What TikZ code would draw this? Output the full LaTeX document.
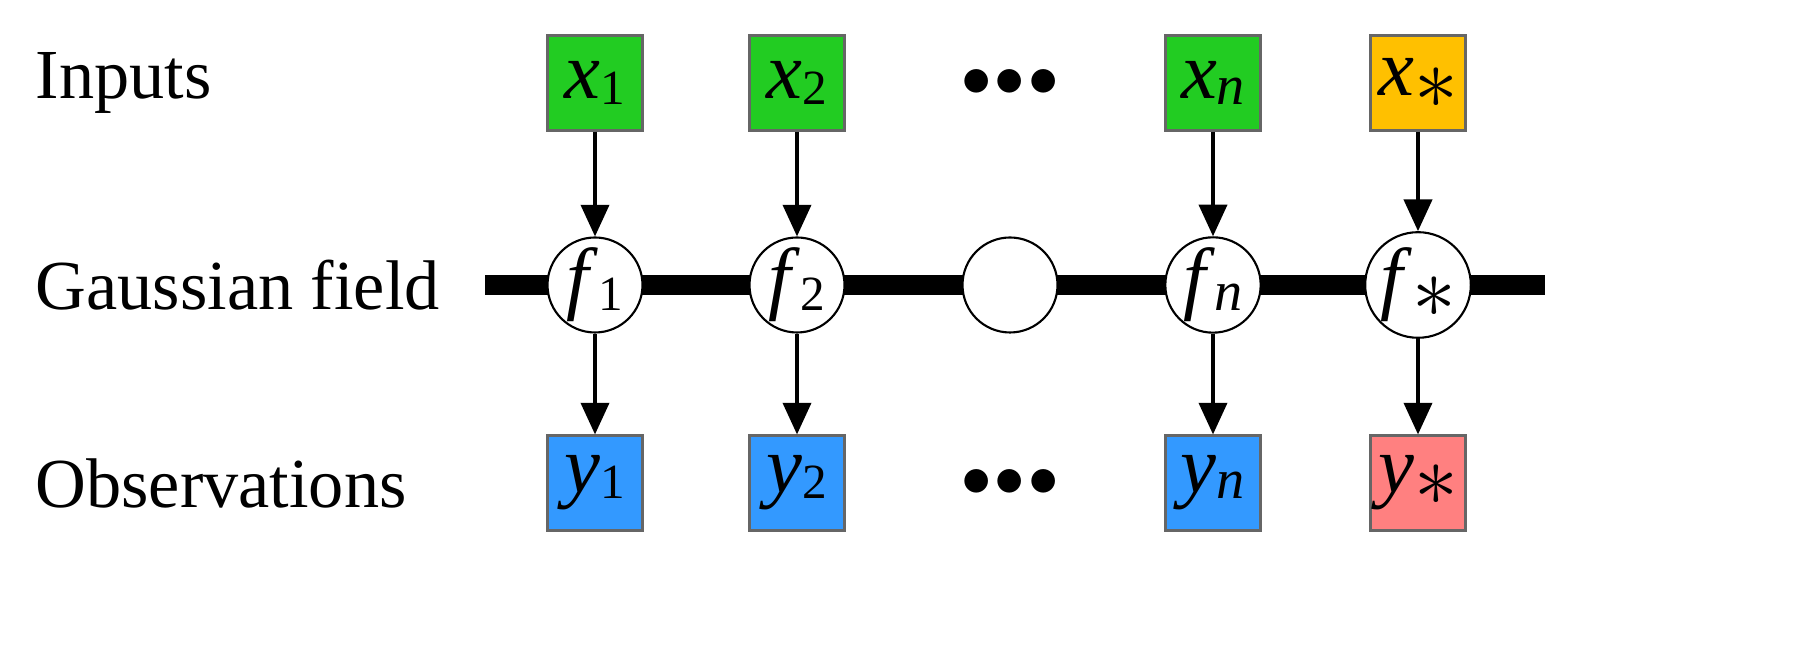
\documentclass[tikz,border=0pt]{standalone}
\usepackage{fontspec}
\setmainfont{Liberation Serif}
\usetikzlibrary{arrows.meta}
\definecolor{gin}{RGB}{34,204,34}
\definecolor{gst}{RGB}{255,192,0}
\definecolor{bob}{RGB}{51,153,255}
\definecolor{rob}{RGB}{255,128,128}
\newcommand{\sbx}[2]{\textit{#1}\raisebox{-0.15ex}{\fontsize{14}{14}\selectfont #2}}
\newcommand{\sbn}[1]{\textit{#1}\raisebox{-0.15ex}{\fontsize{16}{16}\selectfont\textit{n}}}
\newcommand{\sbs}[1]{\textit{#1}\raisebox{-0.35ex}{$*$}}
\begin{document}
\begin{tikzpicture}[
  box/.style={draw=black!60,line width=0.6pt,minimum size=0.95cm,inner sep=0pt,font=\fontsize{23}{25}\selectfont},
  fn/.style={draw,circle,fill=white,line width=0.6pt,minimum size=0.95cm,inner sep=0pt,font=\fontsize{23}{25}\selectfont},
  lab/.style={anchor=west,inner sep=0pt,font=\fontsize{20}{24}\selectfont},
  dots/.style={font=\fontsize{16}{16}\selectfont},
  arr/.style={line width=1pt,-{Triangle[length=9pt,width=8pt]}}]
\useasboundingbox (0,0) rectangle (17.98,6.56);
\node[lab] (l1) at (0.35,5.73) {Inputs};
\node[lab] (l2) at (0.35,3.71) {Gaussian field};
\node[lab] (l3) at (0.35,1.73) {Observations};
\coordinate (ls) at (4.85,3.71);
\coordinate (le) at (15.45,3.71);
\draw[line width=5.5pt] (ls) -- (le);
\node[box,fill=gin] (x1) at (5.95,5.73) {\sbx{x}{1}};
\node[box,fill=gin] (x2) at (7.97,5.73) {\sbx{x}{2}};
\node[dots] (dt) at (10.1,5.73) {$\bullet\!\bullet\!\bullet$};
\node[box,fill=gin] (xn) at (12.13,5.73) {\sbn{x}};
\node[box,fill=gst] (xs) at (14.18,5.73) {\sbs{x}};
\node[fn] (f1) at (5.95,3.71) {\sbx{f}{1}};
\node[fn] (f2) at (7.97,3.71) {\sbx{f}{2}};
\node[fn] (fd) at (10.1,3.71) {};
\node[fn] (fn) at (12.13,3.71) {\sbn{f}};
\node[fn] (fs) at (14.18,3.71) {\sbs{f}};
\node[box,fill=bob] (y1) at (5.95,1.73) {\sbx{y}{1}};
\node[box,fill=bob] (y2) at (7.97,1.73) {\sbx{y}{2}};
\node[dots] (db) at (10.1,1.73) {$\bullet\!\bullet\!\bullet$};
\node[box,fill=bob] (yn) at (12.13,1.73) {\sbn{y}};
\node[box,fill=rob] (ys) at (14.18,1.73) {\sbs{y}};
\foreach \a/\b in {x1/f1,x2/f2,xn/fn,xs/fs,f1/y1,f2/y2,fn/yn,fs/ys}
  \draw[arr] (\a.south) -- (\b.north);
\end{tikzpicture}
\end{document}
